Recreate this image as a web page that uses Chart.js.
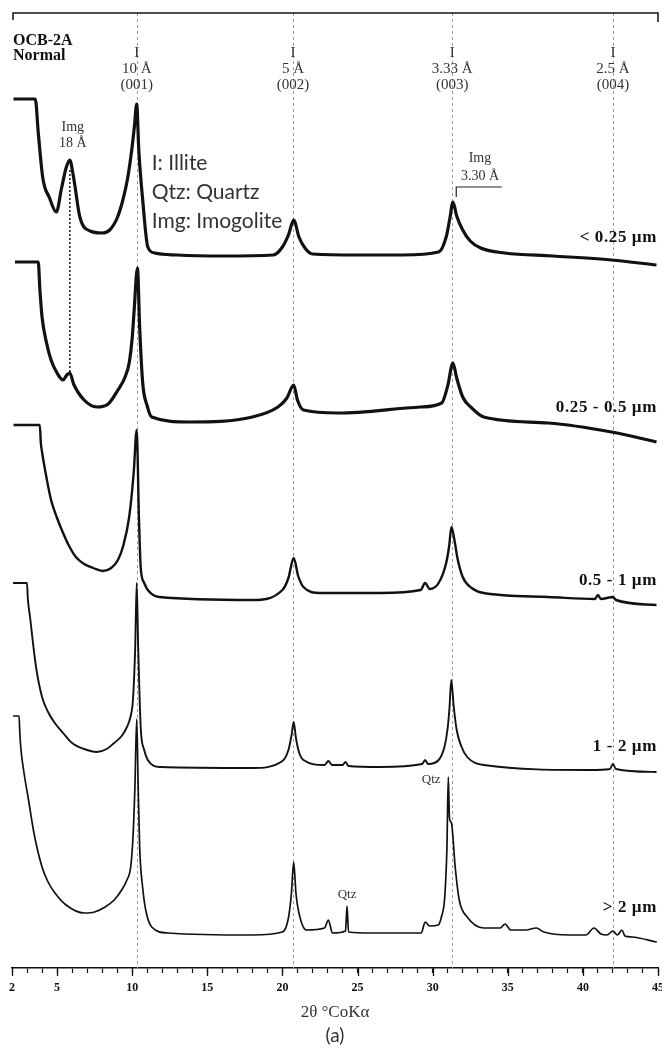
<!DOCTYPE html>
<html>
<head>
<meta charset="utf-8">
<script src="https://cdn.jsdelivr.net/npm/chart.js@4.4.1/dist/chart.umd.min.js"></script>
<style>
  html, body { margin: 0; padding: 0; background: #fff; }
  canvas { display: block; }
</style>
</head>
<body>
<canvas id="xrd" width="662" height="1053"></canvas>
<script>
// 2θ (° CoKα) vs stacked intensity (arbitrary units, each trace offset)
const trace025 = [[2.1,869],[3.55,869],[3.75,835],[4.05,790],[4.5,770],[4.95,756],[5.3,780],[5.6,800],[5.85,808],[6.05,795],[6.2,781],[6.5,752],[7.2,737],[8.0,735],[8.5,738],[9.0,750],[9.38,768],[9.7,790],[9.97,818],[10.15,842],[10.3,864],[10.44,818],[10.7,768],[11.04,721],[11.5,715],[13,713],[16,712],[19.4,713],[20.0,721],[20.4,733],[20.75,748],[21.1,731],[21.5,720],[22.0,714],[25,713],[28,713],[30.4,716],[30.9,731],[31.15,750],[31.35,766],[31.6,752],[32.0,738],[32.5,727],[33.2,720],[34.8,715],[38,712],[41.9,708],[44.9,703]];
const trace05 = [[2.2,706],[3.75,706],[3.85,680],[4.0,651],[4.3,625],[4.6,608],[5.0,595],[5.4,588],[5.65,593],[5.85,595],[6.1,584],[6.8,568],[7.65,561],[8.4,564],[9.05,578],[9.5,590],[9.8,605],[10.0,630],[10.12,655],[10.35,700],[10.5,640],[10.7,585],[11.0,562],[11.3,551],[13.8,546],[18.0,551],[19.7,561],[20.3,570],[20.75,583],[21.0,568],[21.4,558],[23.7,555],[29.2,561],[30.6,565],[31.0,582],[31.35,605],[31.6,590],[32.0,571],[32.6,560],[33.4,551],[37.7,545],[41.9,536],[44.9,526]];
const trace1 = [[2.1,543],[3.85,543],[3.92,525],[4.0,516],[4.3,490],[4.6,468],[5.0,450],[5.4,435],[5.8,422],[6.25,411],[6.8,404],[7.4,400],[8.05,397],[8.6,400],[9.05,408],[9.4,422],[9.8,451],[10.1,495],[10.3,538],[10.45,450],[10.57,400],[10.8,385],[11.04,378],[11.8,371],[18.0,368],[20.0,378],[20.4,390],[20.75,410],[21.05,392],[21.4,381],[22.5,375],[26.5,375],[29.2,378],[29.5,385],[29.8,379],[30.4,385],[30.9,405],[31.1,422],[31.25,441],[31.45,428],[31.65,410],[32.0,391],[32.6,380],[33.4,375],[37.7,371],[40.8,369],[41.0,373],[41.2,369],[42.0,371],[42.2,368],[44.9,363]];
const trace2 = [[2.07,385],[3.0,385],[3.05,370],[3.2,351],[3.6,301],[4.0,271],[4.4,256],[4.85,245],[5.4,235],[6.0,225],[6.8,219],[7.65,216],[8.3,219],[8.8,225],[9.3,232],[9.65,241],[9.9,252],[10.05,268],[10.2,320],[10.3,385],[10.4,320],[10.57,240],[10.8,218],[11.04,208],[11.83,201],[18.0,200],[20.0,207],[20.4,218],[20.6,232],[20.75,246],[20.9,230],[21.1,216],[21.4,208],[22.8,203],[23.06,207],[23.3,203],[24.0,203],[24.2,206],[24.4,202],[26.5,201],[29.3,204],[29.5,208],[29.7,204],[30.4,208],[30.8,222],[31.0,240],[31.12,260],[31.24,288],[31.4,262],[31.6,238],[31.9,222],[32.3,211],[33.4,203],[40.5,198],[41.8,199],[42.0,204],[42.2,199],[44.9,196]];
const traceGt2 = [[2.07,252],[2.47,252],[2.52,235],[2.6,218],[2.8,195],[3.1,168],[3.46,135],[4.0,101],[4.4,86],[4.86,75],[5.6,63],[6.8,55],[7.5,56],[8.2,61],[8.8,68],[9.3,78],[9.65,88],[9.9,101],[10.05,130],[10.18,180],[10.3,249],[10.4,180],[10.5,120],[10.7,80],[10.9,58],[11.3,41],[12.4,35],[18.0,33],[20.0,36],[20.4,50],[20.6,75],[20.75,106],[20.9,75],[21.1,55],[21.6,38],[22.8,40],[23.06,48],[23.33,35],[24.2,37],[24.3,62],[24.4,36],[26.0,35],[29.24,35],[29.5,46],[29.8,42],[30.37,43],[30.6,52],[30.8,70],[30.95,120],[31.04,191],[31.12,150],[31.25,145],[31.5,101],[31.77,68],[32.3,51],[33.4,40],[34.5,40],[34.82,44],[35.2,38],[36.2,38],[36.9,40],[37.4,36],[39.08,33],[40.2,33],[40.74,40],[41.2,34],[41.6,33],[42.0,37],[42.3,33],[42.6,38],[42.8,32],[43.26,31],[44.92,26]];

const sampleLabels = ['< 0.25 µm', '0.25 - 0.5 µm', '0.5 - 1 µm', '1 - 2 µm', '> 2 µm'];
const sampleLabelLevel = [730, 560, 387, 221, 60];
const sampleTraces = [trace025, trace05, trace1, trace2, traceGt2];
const lineWidths = [3.2, 3.2, 2.4, 1.9, 1.7];

// illite basal reflections
const peakTwoTheta = [10.3, 20.7, 31.3, 42.0];
const peakSpacing = ['10 Å', '5 Å', '3.33 Å', '2.5 Å'];
const peakIndex = ['(001)', '(002)', '(003)', '(004)'];

const tickLabels = [2, 5, 10, 15, 20, 25, 30, 35, 40, 45];
const legendLines = ['I: Illite', 'Qtz: Quartz', 'Img: Imogolite'];

const serif = "'Liberation Serif', 'Times New Roman', serif";
const sans = "Lato, 'Open Sans', sans-serif";

const decor = {
  id: 'decor',
  beforeDatasetsDraw(chart) {
    const { ctx, chartArea: a, scales: { x, y } } = chart;
    ctx.save();
    // dashed reference lines
    ctx.strokeStyle = '#9c9c9c';
    ctx.lineWidth = 1;
    ctx.setLineDash([3, 3]);
    peakTwoTheta.forEach(t => {
      const px = Math.round(x.getPixelForValue(t)) + 0.5;
      ctx.beginPath();
      ctx.moveTo(px, a.top);
      ctx.lineTo(px, a.bottom);
      ctx.stroke();
    });
    // imogolite 18 A dotted drop line
    ctx.strokeStyle = '#222';
    ctx.lineWidth = 1.6;
    ctx.setLineDash([2, 2]);
    const ix = x.getPixelForValue(5.85);
    ctx.beginPath();
    ctx.moveTo(ix, y.getPixelForValue(798));
    ctx.lineTo(ix, y.getPixelForValue(593));
    ctx.stroke();
    ctx.restore();
  },
  afterDatasetsDraw(chart) {
    const { ctx, chartArea: a, scales: { x, y } } = chart;
    ctx.save();
    ctx.fillStyle = '#111';
    ctx.strokeStyle = '#111';

    // top frame
    ctx.lineWidth = 1.5;
    ctx.beginPath();
    ctx.moveTo(a.left + 1, a.top + 7);
    ctx.lineTo(a.left + 1, a.top);
    ctx.lineTo(a.right, a.top);
    ctx.lineTo(a.right, a.top + 9);
    ctx.stroke();

    // longer ticks at labelled positions
    ctx.lineWidth = 1.3;
    tickLabels.forEach(t => {
      const px = Math.round(x.getPixelForValue(t)) + 0.5;
      ctx.beginPath();
      ctx.moveTo(px, a.bottom);
      ctx.lineTo(px, a.bottom + 8);
      ctx.stroke();
    });

    ctx.textBaseline = 'middle';
    // sample name
    ctx.textAlign = 'left';
    ctx.font = 'bold 16px ' + serif;
    ctx.fillText('OCB-2A', a.left + 1, y.getPixelForValue(927));
    ctx.fillText('Normal', a.left + 1, y.getPixelForValue(912));

    // peak labels
    ctx.textAlign = 'center';
    ctx.fillStyle = '#333';
    ctx.font = '15px ' + serif;
    peakTwoTheta.forEach((t, i) => {
      const px = x.getPixelForValue(t);
      ctx.fillText('I', px, y.getPixelForValue(915));
      ctx.fillText(peakSpacing[i], px, y.getPixelForValue(899));
      ctx.fillText(peakIndex[i], px, y.getPixelForValue(883));
    });

    // imogolite labels
    ctx.font = '14px ' + serif;
    ctx.fillText('Img', x.getPixelForValue(6.05), y.getPixelForValue(841));
    ctx.fillText('18 Å', x.getPixelForValue(6.05), y.getPixelForValue(825));
    ctx.fillText('Img', x.getPixelForValue(33.15), y.getPixelForValue(810));
    ctx.fillText('3.30 Å', x.getPixelForValue(33.15), y.getPixelForValue(792));
    ctx.strokeStyle = '#222';
    ctx.lineWidth = 1.2;
    ctx.beginPath();
    ctx.moveTo(x.getPixelForValue(31.57), y.getPixelForValue(771));
    ctx.lineTo(x.getPixelForValue(31.57), y.getPixelForValue(781));
    ctx.lineTo(x.getPixelForValue(34.6), y.getPixelForValue(781));
    ctx.stroke();

    // quartz labels
    ctx.font = '13px ' + serif;
    ctx.fillText('Qtz', x.getPixelForValue(29.9), y.getPixelForValue(188));
    ctx.fillText('Qtz', x.getPixelForValue(24.3), y.getPixelForValue(73));

    // mineral key
    ctx.textAlign = 'left';
    ctx.fillStyle = '#333';
    ctx.font = '21px ' + sans;
    legendLines.forEach((s, i) => {
      ctx.fillText(s, x.getPixelForValue(11.3), y.getPixelForValue(805 - i * 29));
    });

    // size fractions
    ctx.textAlign = 'right';
    ctx.fillStyle = '#111';
    ctx.font = 'bold 17px ' + serif;
    ctx.letterSpacing = '0.6px';
    sampleLabels.forEach((s, i) => {
      ctx.fillText(s, a.right - 1, y.getPixelForValue(sampleLabelLevel[i]));
    });
    ctx.letterSpacing = '0px';

    // axis title and panel letter
    const cx = (a.left + a.right) / 2;
    ctx.textAlign = 'center';
    ctx.fillStyle = '#333';
    ctx.font = '17px ' + serif;
    ctx.fillText('2θ °CoKα', cx, a.bottom + 45);
    ctx.font = '19px ' + sans;
    ctx.fillText('(a)', cx, a.bottom + 68);
    ctx.restore();
  }
};

const ctx = document.getElementById('xrd');

new Chart(ctx, {
  type: 'scatter',
  data: {
    datasets: sampleTraces.map((tr, i) => ({
      label: sampleLabels[i],
      data: tr.map(p => ({ x: p[0], y: p[1] })),
      showLine: true,
      borderColor: '#111',
      borderWidth: lineWidths[i],
      pointRadius: 0,
      cubicInterpolationMode: 'monotone',
      borderJoinStyle: 'round'
    }))
  },
  options: {
    responsive: false,
    animation: false,
    layout: { padding: { left: 12, right: 4, top: 13, bottom: 55 } },
    plugins: { legend: { display: false }, tooltip: { enabled: false } },
    scales: {
      x: {
        type: 'linear',
        min: 2,
        max: 45,
        border: { display: true, color: '#111', width: 1.5 },
        grid: { display: true, drawOnChartArea: false, drawTicks: true, tickLength: 5, color: '#111', tickWidth: 1.2 },
        ticks: {
          stepSize: 1,
          autoSkip: false,
          maxRotation: 0,
          padding: 8,
          color: '#111',
          font: { family: serif, size: 12, weight: 'bold' },
          callback: v => tickLabels.includes(v) ? String(v) : ''
        },
        afterFit: s => { s.height = 30; s.paddingLeft = 0; s.paddingRight = 0; }
      },
      y: { display: false, min: 0, max: 955 }
    }
  },
  plugins: [decor]
});
</script>
</body>
</html>
